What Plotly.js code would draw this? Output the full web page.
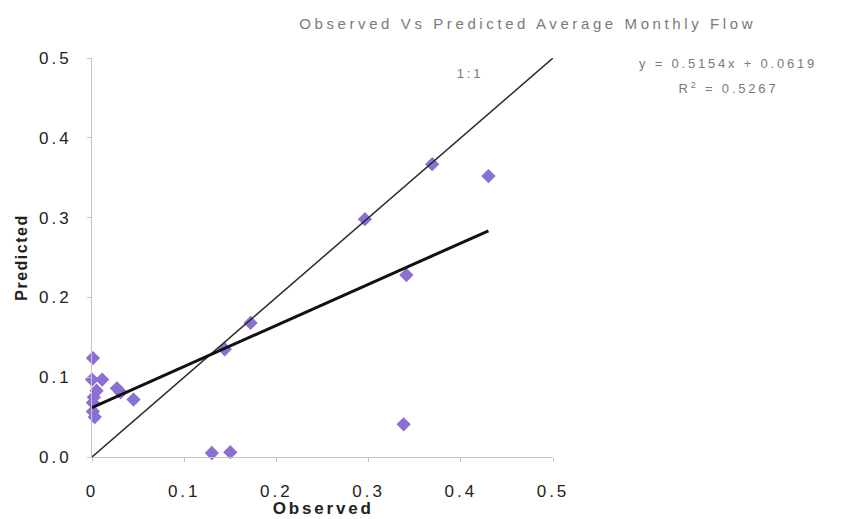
<!DOCTYPE html>
<html>
<head>
<meta charset="utf-8">
<script src="https://cdn.plot.ly/plotly-3.0.1.min.js"></script>
<style>
html,body{margin:0;padding:0;background:#fff;}
#chart{width:851px;height:519px;}
#chart .gtitle{letter-spacing:3.6px;}
#chart .annotation-text{letter-spacing:2.8px;}
#chart .xtick text, #chart .ytick text{letter-spacing:3px;}
#chart .ytitle{letter-spacing:1.5px;}
</style>
</head>
<body>
<div id="chart"></div>
<script>
// Observed vs predicted average monthly flow
const observed  = [0.001, 0.000, 0.011, 0.005, 0.002, 0.001, 0.001, 0.003, 0.027, 0.031, 0.045, 0.130, 0.150, 0.144, 0.172, 0.296, 0.338, 0.341, 0.369, 0.430];
const predicted = [0.124, 0.097, 0.097, 0.083, 0.075, 0.068, 0.057, 0.050, 0.086, 0.081, 0.072, 0.005, 0.006, 0.135, 0.168, 0.298, 0.041, 0.228, 0.367, 0.352];

// 1:1 line
const oneToOneX = [0, 0.5];
const oneToOneY = [0, 0.5];

// Linear trendline y = 0.5154x + 0.0619
const trendX = [0, 0.43];
const trendY = [0.0619, 0.2835];

const xTickVals = [0, 0.1, 0.2, 0.3, 0.4, 0.5];
const xTickText = ["0", "0.1", "0.2", "0.3", "0.4", "0.5"];
const yTickVals = [0, 0.1, 0.2, 0.3, 0.4, 0.5];
const yTickText = ["0.0", "0.1", "0.2", "0.3", "0.4", "0.5"];

const titleText = "Observed Vs Predicted Average Monthly Flow";
const xTitle = "Observed";
const yTitle = "Predicted";
const eqText = "y = 0.5154x + 0.0619";
const r2Text = "R<sup>2</sup> = 0.5267";
const oneToOneLabel = "1:1";

const traces = [
  {
    x: observed, y: predicted, type: "scatter", mode: "markers",
    marker: {symbol: "diamond", size: 11, color: "#8b70d4"},
    cliponaxis: false, hoverinfo: "skip"
  },
  {
    x: oneToOneX, y: oneToOneY, type: "scatter", mode: "lines",
    line: {color: "#2a2a2a", width: 1.5}, cliponaxis: false, hoverinfo: "skip"
  },
  {
    x: trendX, y: trendY, type: "scatter", mode: "lines",
    line: {color: "#111111", width: 3}, cliponaxis: false, hoverinfo: "skip"
  }
];

const font = "Liberation Sans, Arial, sans-serif";

const layout = {
  width: 851, height: 519,
  paper_bgcolor: "#ffffff", plot_bgcolor: "#ffffff",
  showlegend: false,
  margin: {l: 92, r: 298, t: 58, b: 62},
  font: {family: font, color: "#222", size: 12},
  title: {
    text: titleText, xref: "paper", x: 0.945, xanchor: "center",
    yref: "container", y: 0.955, yanchor: "middle",
    font: {family: font, size: 15, color: "#7a7a7a"}
  },
  xaxis: {
    range: [0, 0.5], tickvals: xTickVals, ticktext: xTickText,
    showgrid: false, zeroline: false, showline: true, linecolor: "#c4c4c4", linewidth: 1,
    ticks: "outside", ticklen: 4, tickcolor: "#c4c4c4", ticklabelstandoff: 15,
    tickfont: {family: font, size: 17, color: "#222"}
  },
  yaxis: {
    range: [0, 0.5], tickvals: yTickVals, ticktext: yTickText,
    showgrid: false, zeroline: false, showline: true, linecolor: "#c4c4c4", linewidth: 1,
    ticks: "outside", ticklen: 4, tickcolor: "#c4c4c4", ticklabelstandoff: 12,
    tickfont: {family: font, size: 17, color: "#222"},
    title: {text: "<b>" + yTitle + "</b>", standoff: 16, font: {family: font, size: 16, color: "#222"}}
  },
  annotations: [
    {xref: "paper", yref: "paper", x: 1.38, y: 0.985, text: eqText, showarrow: false,
     xanchor: "center", yanchor: "middle", font: {family: font, size: 13, color: "#7a7a7a"}},
    {xref: "paper", yref: "paper", x: 1.38, y: 0.925, text: r2Text, showarrow: false,
     xanchor: "center", yanchor: "middle", font: {family: font, size: 13, color: "#7a7a7a"}},
    {xref: "x", yref: "y", x: 0.41, y: 0.481, text: oneToOneLabel, showarrow: false,
     xanchor: "center", yanchor: "middle", font: {family: font, size: 13, color: "#7a7a7a"}},
    {xref: "paper", yref: "paper", x: 0.5, y: -0.128, text: "<b>" + xTitle + "</b>", showarrow: false,
     xanchor: "center", yanchor: "middle", font: {family: font, size: 17, color: "#222"}}
  ]
};

Plotly.newPlot("chart", traces, layout, {displayModeBar: false, staticPlot: true});
</script>
</body>
</html>
